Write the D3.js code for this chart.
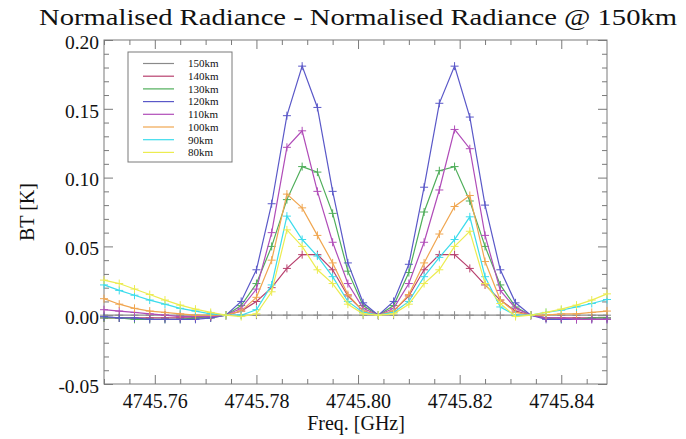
<!DOCTYPE html>
<html>
<head>
<meta charset="utf-8">
<script src="https://cdn.jsdelivr.net/npm/d3@7"></script>
<style>
  body { margin: 0; background: #fff; }
  text { font-family: "Liberation Serif", "DejaVu Serif", serif; fill: #111; }
</style>
</head>
<body>
<div id="chart"></div>
<script>
// frequencies [GHz]
let freqs = [4745.750, 4745.753, 4745.756, 4745.759, 4745.762, 4745.765, 4745.768, 4745.771, 4745.774,
    4745.777, 4745.780, 4745.783, 4745.786, 4745.789, 4745.792, 4745.795, 4745.798, 4745.801,
    4745.804, 4745.807, 4745.810, 4745.813, 4745.816, 4745.819, 4745.822, 4745.825, 4745.828,
    4745.831, 4745.834, 4745.837, 4745.840, 4745.843, 4745.846, 4745.849];

// BT difference [K] per altitude
let km150 = [0, 0, 0, 0, 0, 0, 0, 0, 0, 0, 0, 0, 0, 0, 0, 0, 0,
    0, 0, 0, 0, 0, 0, 0, 0, 0, 0, 0, 0, 0, 0, 0, 0, 0];
let km140 = [-0.002, -0.002, -0.002, -0.002, -0.002, -0.002, -0.002, -0.001, 0.000, 0.003, 0.010, 0.020,
    0.034, 0.044, 0.044, 0.033, 0.014, 0.003, 0.000, 0.003, 0.014, 0.033, 0.044, 0.044, 0.034,
    0.022, 0.011, 0.003, 0.000, -0.002, -0.002, -0.002, -0.002, -0.002];
let km130 = [-0.002, -0.002, -0.003, -0.003, -0.003, -0.003, -0.002, -0.002, 0.000, 0.007, 0.023, 0.050,
    0.084, 0.108, 0.104, 0.074, 0.032, 0.007, 0.000, 0.007, 0.031, 0.075, 0.105, 0.108, 0.083,
    0.050, 0.022, 0.006, 0.000, -0.002, -0.003, -0.003, -0.002, -0.002];
let km120 = [-0.001, -0.002, -0.002, -0.003, -0.003, -0.003, -0.003, -0.002, 0.000, 0.010, 0.033, 0.081,
    0.145, 0.181, 0.151, 0.090, 0.038, 0.009, 0.000, 0.010, 0.037, 0.093, 0.154, 0.181, 0.144,
    0.080, 0.033, 0.009, 0.000, -0.003, -0.003, -0.003, -0.003, -0.003];
let km110 = [0.004, 0.003, 0.002, 0.001, 0.000, -0.001, -0.001, -0.001, 0.000, 0.005, 0.019, 0.060,
    0.122, 0.134, 0.090, 0.053, 0.023, 0.005, 0.000, 0.005, 0.023, 0.053, 0.091, 0.135, 0.121,
    0.058, 0.018, 0.005, 0.000, -0.002, -0.002, -0.003, -0.003, -0.003];
let km100 = [0.012, 0.008, 0.005, 0.003, 0.002, 0.001, 0.000, 0.000, 0.000, 0.003, 0.013, 0.040,
    0.088, 0.078, 0.058, 0.038, 0.015, 0.003, 0.000, 0.003, 0.015, 0.038, 0.059, 0.079, 0.087,
    0.039, 0.011, 0.002, 0.000, 0.000, 0.001, 0.001, 0.002, 0.003];
let km90 = [0.022, 0.018, 0.0145, 0.011, 0.008, 0.005, 0.003, 0.001, 0.000, 0.000, 0.004, 0.022,
    0.072, 0.055, 0.043, 0.028, 0.010, 0.002, 0.000, 0.002, 0.010, 0.028, 0.042, 0.055, 0.0715,
    0.028, 0.006, 0.000, 0.000, 0.002, 0.0036, 0.006, 0.0085, 0.0114];
let km80 = [0.0255, 0.023, 0.019, 0.015, 0.011, 0.0073, 0.0044, 0.002, 0.000, -0.001, 0.001, 0.017,
    0.062, 0.050, 0.033, 0.023, 0.008, 0.001, 0.000, 0.001, 0.008, 0.023, 0.033, 0.050, 0.061,
    0.023, 0.0085, -0.001, 0.000, 0.002, 0.0044, 0.0073, 0.011, 0.0155];

let seriesNames = ["150km", "140km", "130km", "120km", "110km", "100km", "90km", "80km"];
let seriesValues = [km150, km140, km130, km120, km110, km100, km90, km80];
let seriesColors = ["#8a8a8a", "#b8406e", "#4fae5a", "#5a58c8", "#b04cb8", "#f0a650", "#3cdcec", "#ecec50"];

let yTicks = [-0.05, 0.00, 0.05, 0.10, 0.15, 0.20];
let xTicks = [4745.76, 4745.78, 4745.80, 4745.82, 4745.84];

let W = 686, H = 439;
let margin = {top: 40, right: 79, bottom: 55, left: 104};

let svg = d3.select("#chart").append("svg")
    .attr("width", W)
    .attr("height", H);

let x = d3.scaleLinear().domain([4745.75, 4745.849]).range([margin.left, W - margin.right]);
let y = d3.scaleLinear().domain([-0.05, 0.20]).range([H - margin.bottom, margin.top]);

let axisColor = "#7a7a7a";

// minor tick values
let xMinor = d3.range(0, 20).map(function (i) { return 4745.75 + i * 0.005; })
    .filter(function (v) { return xTicks.every(function (t) { return Math.abs(t - v) > 1e-6; }); });
let yMinor = d3.range(-5, 21).map(function (i) { return i / 100; })
    .filter(function (v) { return yTicks.every(function (t) { return Math.abs(t - v) > 1e-6; }); });

function styleAxis(g, size) {
    g.select(".domain").remove();
    g.selectAll("line").attr("stroke", axisColor);
    g.selectAll("text").style("font-size", (size || 20) + "px").style("font-family", "'Liberation Serif', serif").attr("fill", "#111");
}

// bottom axis, major + minor, inward ticks
svg.append("g")
    .attr("transform", "translate(0," + y.range()[0] + ")")
    .call(d3.axisBottom(x).tickValues(xTicks).tickSize(-9).tickPadding(10).tickFormat(d3.format(".2f")))
    .call(styleAxis);
svg.append("g")
    .attr("transform", "translate(0," + y.range()[0] + ")")
    .call(d3.axisBottom(x).tickValues(xMinor).tickSize(-5).tickFormat(""))
    .call(styleAxis);
// top axis
svg.append("g")
    .attr("transform", "translate(0," + y.range()[1] + ")")
    .call(d3.axisTop(x).tickValues(xTicks).tickSize(-9).tickFormat(""))
    .call(styleAxis);
svg.append("g")
    .attr("transform", "translate(0," + y.range()[1] + ")")
    .call(d3.axisTop(x).tickValues(xMinor).tickSize(-5).tickFormat(""))
    .call(styleAxis);
// left axis
let yAxisG = svg.append("g")
    .attr("transform", "translate(" + x.range()[0] + ",0)")
    .call(d3.axisLeft(y).tickValues(yTicks).tickSize(-9).tickPadding(5).tickFormat(d3.format(".2f")))
    .call(styleAxis, 19.5);
yAxisG.selectAll("text").attr("dy", "0.42em");
svg.append("g")
    .attr("transform", "translate(" + x.range()[0] + ",0)")
    .call(d3.axisLeft(y).tickValues(yMinor).tickSize(-5).tickFormat(""))
    .call(styleAxis);
// right axis
svg.append("g")
    .attr("transform", "translate(" + x.range()[1] + ",0)")
    .call(d3.axisRight(y).tickValues(yTicks).tickSize(-9).tickFormat(""))
    .call(styleAxis);
svg.append("g")
    .attr("transform", "translate(" + x.range()[1] + ",0)")
    .call(d3.axisRight(y).tickValues(yMinor).tickSize(-5).tickFormat(""))
    .call(styleAxis);

// the -0.05 label uses a hyphen like the original
svg.selectAll("text").each(function () {
    let t = d3.select(this);
    t.text(t.text().replace("\u2212", "-"));
});

// plot box
svg.append("rect")
    .attr("x", x.range()[0])
    .attr("y", y.range()[1])
    .attr("width", x.range()[1] - x.range()[0])
    .attr("height", y.range()[0] - y.range()[1])
    .attr("fill", "none")
    .attr("stroke", axisColor)
    .attr("stroke-width", 1);

// series: line + '+' markers
let line = d3.line()
    .x(function (d, i) { return x(freqs[i]); })
    .y(function (d) { return y(d); });

seriesValues.forEach(function (vals, s) {
    let g = svg.append("g");
    g.append("path")
        .datum(vals)
        .attr("d", line)
        .attr("fill", "none")
        .attr("stroke", seriesColors[s])
        .attr("stroke-width", 1.2);
    g.selectAll("path.mk")
        .data(vals)
        .enter().append("path")
        .attr("class", "mk")
        .attr("d", function (d, i) {
            let px = x(freqs[i]), py = y(d);
            return "M" + (px - 4) + "," + py + "H" + (px + 4) + "M" + px + "," + (py - 4) + "V" + (py + 4);
        })
        .attr("stroke", seriesColors[s])
        .attr("stroke-width", 1);
});

// legend
let leg = svg.append("g");
leg.append("rect")
    .attr("x", 128).attr("y", 52)
    .attr("width", 104).attr("height", 110)
    .attr("fill", "#fff")
    .attr("stroke", axisColor);
seriesNames.forEach(function (name, i) {
    let ly = 63.5 + i * 12.7;
    leg.append("line")
        .attr("x1", 143).attr("x2", 174)
        .attr("y1", ly).attr("y2", ly)
        .attr("stroke", seriesColors[i])
        .attr("stroke-width", 1.2);
    leg.append("text")
        .attr("x", 188).attr("y", ly + 3.8)
        .style("font-size", "11px")
        .text(name);
});

// title and axis names
svg.append("text")
    .attr("x", 358).attr("y", 25)
    .attr("text-anchor", "middle")
    .style("font-size", "24px")
    .attr("textLength", 638)
    .attr("lengthAdjust", "spacingAndGlyphs")
    .text("Normalised Radiance - Normalised Radiance @ 150km");

svg.append("text")
    .attr("transform", "translate(34," + ((y.range()[0] + y.range()[1]) / 2) + ") rotate(-90)")
    .attr("text-anchor", "middle")
    .style("font-size", "20px")
    .text("BT [K]");

svg.append("text")
    .attr("x", 356).attr("y", 430)
    .attr("text-anchor", "middle")
    .style("font-size", "20px")
    .text("Freq. [GHz]");
</script>
</body>
</html>
